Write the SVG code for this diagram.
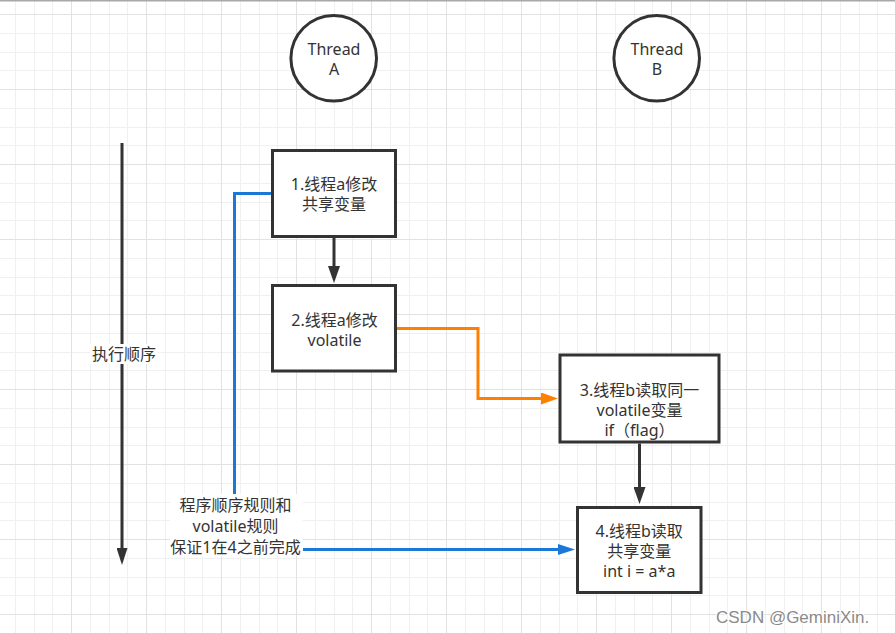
<svg xmlns="http://www.w3.org/2000/svg" width="895" height="633" viewBox="0 0 895 633">
<style>
.shape{fill:#ffffff;stroke:#333333;stroke-width:3}
.t{font-family:"Noto Sans","Noto Sans CJK SC",sans-serif;font-size:16px;fill:#333333;text-anchor:middle}
.line{fill:none;stroke-width:3}
.dark{stroke:#333333}
.orange{stroke:#ff8000}
.blue{stroke:#1b78d8}
.bg{fill:#ffffff}
.wm{font-family:"Liberation Sans",Arial,sans-serif;font-size:17px;fill:#8a8a8a;stroke:#ffffff;stroke-width:2;paint-order:stroke}
</style>
<defs>
<pattern id="grid" x="71" y="14" width="75" height="75" patternUnits="userSpaceOnUse">
<rect x="19" y="0" width="1" height="75" fill="#f0f0f0"/>
<rect x="38" y="0" width="1" height="75" fill="#f0f0f0"/>
<rect x="56" y="0" width="1" height="75" fill="#f0f0f0"/>
<rect x="0" y="19" width="75" height="1" fill="#f0f0f0"/>
<rect x="0" y="38" width="75" height="1" fill="#f0f0f0"/>
<rect x="0" y="56" width="75" height="1" fill="#f0f0f0"/>
<rect x="0" y="0" width="1" height="75" fill="#e2e2e2"/>
<rect x="0" y="0" width="75" height="1" fill="#e2e2e2"/>
</pattern>
<marker id="arrDark" markerUnits="userSpaceOnUse" markerWidth="18" markerHeight="12" refX="9" refY="6" orient="auto" viewBox="0 0 18 12">
<path d="M0,0 L17,6 L0,12 Z" fill="#333333"/>
</marker>
<marker id="arrExec" markerUnits="userSpaceOnUse" markerWidth="18" markerHeight="11" refX="9" refY="5.5" orient="auto" viewBox="0 0 18 11">
<path d="M0,0 L17,5.5 L0,11 Z" fill="#333333"/>
</marker>
<marker id="arrOrange" markerUnits="userSpaceOnUse" markerWidth="18" markerHeight="12" refX="9" refY="6" orient="auto" viewBox="0 0 18 12">
<path d="M0,0 L17,6 L0,12 Z" fill="#ff8000"/>
</marker>
<marker id="arrBlue" markerUnits="userSpaceOnUse" markerWidth="18" markerHeight="11" refX="9" refY="5.5" orient="auto" viewBox="0 0 18 11">
<path d="M0,0 L17,5.5 L0,11 Z" fill="#1b78d8"/>
</marker>
</defs>
<rect x="0" y="0" width="895" height="633" fill="#ffffff"/>
<rect x="0" y="0" width="895" height="633" fill="url(#grid)"/>
<rect x="0" y="0" width="895" height="1.5" fill="#a8a8a8"/>

<g id="connectors">
<path id="exec-order" class="line dark" d="M122,143 V557" marker-end="url(#arrExec)"/>
<path id="e1-2" class="line dark" d="M334,238 V275" marker-end="url(#arrDark)"/>
<path id="e3-4" class="line dark" d="M639.5,443.5 V496" marker-end="url(#arrDark)"/>
<path id="e2-3" class="line orange" d="M397,328.5 H478 V398.5 H550" marker-end="url(#arrOrange)"/>
<path id="e1-rule" class="line blue" d="M271,193.5 H234.5 V500"/>
<path id="rule-4" class="line blue" d="M300,549.5 H567" marker-end="url(#arrBlue)"/>
</g>

<g id="label-exec">
<rect class="bg" x="90" y="344" width="68" height="20"/>
<text class="t" x="124" y="360">执行顺序</text>
</g>

<g id="label-rule">
<rect class="bg" x="170" y="494" width="133" height="62"/>
<text class="t" x="235.5" y="511">程序顺序规则和</text>
<text class="t" x="235.5" y="532">volatile规则</text>
<text class="t" x="235.5" y="553">保证1在4之前完成</text>
</g>

<g id="threadA">
<circle class="shape" cx="333.7" cy="58.3" r="42.8"/>
<text class="t" x="334" y="55">Thread</text>
<text class="t" x="334" y="75">A</text>
</g>

<g id="threadB">
<circle class="shape" cx="656.7" cy="58.3" r="42.8"/>
<text class="t" x="657" y="55">Thread</text>
<text class="t" x="657" y="75">B</text>
</g>

<g id="node1">
<rect class="shape" x="272.5" y="150.5" width="123" height="86"/>
<text class="t" x="334" y="190.3">1.线程a修改</text>
<text class="t" x="334" y="210.3">共享变量</text>
</g>

<g id="node2">
<rect class="shape" x="272.5" y="285.5" width="123" height="85.5"/>
<text class="t" x="334.5" y="326">2.线程a修改</text>
<text class="t" x="334.5" y="346">volatile</text>
</g>

<g id="node3">
<rect class="shape" x="560" y="355" width="159" height="87"/>
<text class="t" x="639.5" y="395.5">3.线程b读取同一</text>
<text class="t" x="639.5" y="415.5">volatile变量</text>
<text class="t" x="639.5" y="435.5">if（flag）</text>
</g>

<g id="node4">
<rect class="shape" x="577.5" y="507.5" width="123.5" height="85"/>
<text class="t" x="639.2" y="537">4.线程b读取</text>
<text class="t" x="639.2" y="557">共享变量</text>
<text class="t" x="639.2" y="577">int i = a*a</text>
</g>

<text class="wm" x="716" y="622.5">CSDN @GeminiXin.</text>
</svg>
